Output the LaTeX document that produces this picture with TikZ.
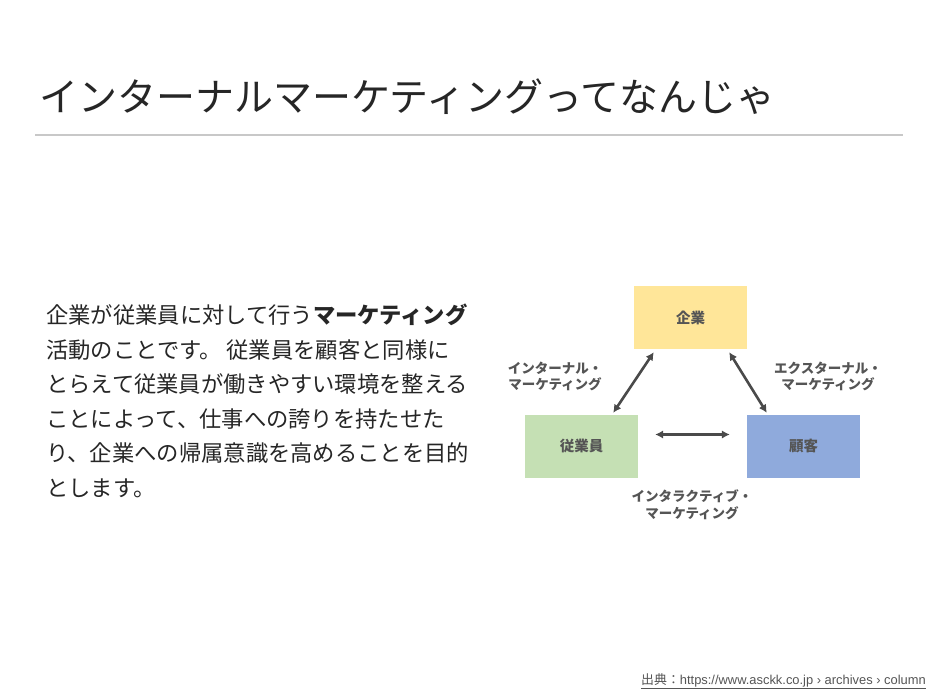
\documentclass[tikz,border=0pt]{standalone}
\usepackage{fontspec}
\usetikzlibrary{arrows.meta}
\setmainfont{Noto Sans CJK JP}
\newfontfamily\latinfont{Liberation Sans}
\definecolor{ink}{HTML}{262626}
\definecolor{lblgray}{HTML}{555555}
\definecolor{rulegray}{HTML}{C8C8C8}
\definecolor{arrowgray}{HTML}{4A4A4A}
\definecolor{corpyellow}{HTML}{FFE699}
\definecolor{staffgreen}{HTML}{C5E0B4}
\definecolor{clientblue}{HTML}{8FAADC}
\begin{document}
\begin{tikzpicture}[x=1pt,y=-1pt,
		box/.style={minimum width=113pt,minimum height=63pt,inner sep=0pt,text=lblgray,font=\fontsize{14.5}{16}\selectfont\bfseries},
		lbl/.style={align=center,inner sep=0pt,text=lblgray,font=\fontsize{13.5}{16.5}\selectfont\bfseries},
		link/.style={{Latex[length=8pt,width=8.5pt]}-{Latex[length=8pt,width=8.5pt]},draw=arrowgray,line width=2.6pt}
	]
			\useasboundingbox[fill=white] (0,0) rectangle (939,695);

			% title
			\node[anchor=west,inner sep=0pt,text=ink,font=\fontsize{39}{40}\selectfont] (title) at (39,97) {インターナルマーケティングってなんじゃ};
			\draw[draw=rulegray,line width=1.2pt] (35,135) -- (903,135);

			\node[anchor=north west,inner sep=0pt,align=left,text=ink,font=\fontsize{22.3}{34.5}\selectfont] (body) at (46,304) {企業が従業員に対して行う\textbf{マーケティング}\\活動のことです。 従業員を顧客と同様に\\とらえて従業員が働きやすい環境を整える\\ことによって、仕事への誇りを持たせた\\り、企業への帰属意識を高めることを目的\\とします。};

			\node[box,fill=corpyellow] (corp) at (690.5,317.5) {企業};
			\node[box,fill=staffgreen] (staff) at (581.5,446.5) {従業員};
			\node[box,fill=clientblue] (client) at (803.5,446.5) {顧客};

			\draw[link] ([xshift=-25pt,yshift=2pt]staff.north east) -- ([xshift=20pt,yshift=-3pt]corp.south west);
			\draw[link] ([xshift=-18pt,yshift=-3pt]corp.south east) -- ([xshift=20pt,yshift=2pt]client.north west);
			\draw[link] ([xshift=17pt,yshift=12pt]staff.east) -- ([xshift=-17pt,yshift=12pt]client.west);

			\node[lbl] (intlbl) at (555,376.5) {インターナル・\\マーケティング};
			\node[lbl] (extlbl) at (828,376.5) {エクスターナル・\\マーケティング};
			\node[lbl] (interlbl) at (692,505) {インタラクティブ・\\マーケティング};

			% source
			\node[anchor=east,inner sep=0pt,text=lblgray,font=\fontsize{12.9}{14}\selectfont] (source) at (926,681) {\underline{出典：{\latinfont https://www.asckk.co.jp › archives › column}}};
		\end{tikzpicture}
\end{document}
